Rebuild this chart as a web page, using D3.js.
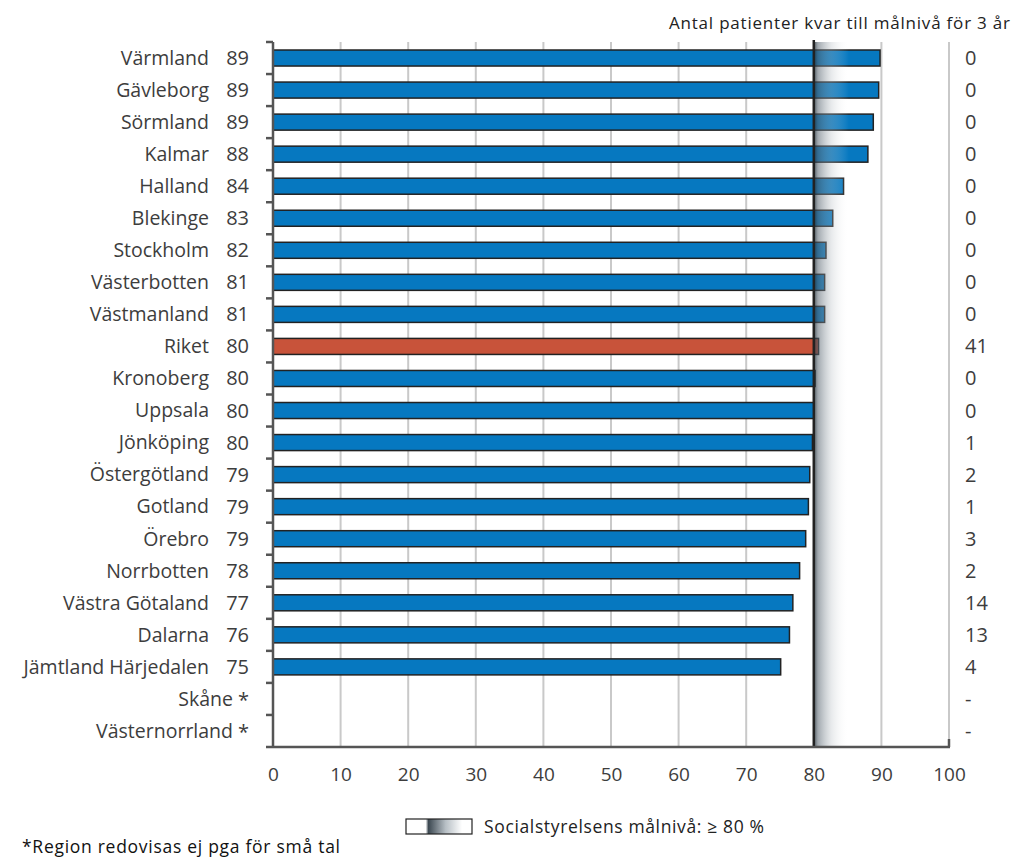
<!DOCTYPE html>
<html>
<head>
<meta charset="utf-8">
<script src="https://cdn.jsdelivr.net/npm/d3@7"></script>
<style>
  body { margin: 0; background: #fff; }
  svg text { font-family: "Open Sans", "Noto Sans", sans-serif; }
</style>
</head>
<body>
<div id="chart"></div>
<script>
// regions top to bottom
const regions = ["Värmland", "Gävleborg", "Sörmland", "Kalmar", "Halland", "Blekinge", "Stockholm",
  "Västerbotten", "Västmanland", "Riket", "Kronoberg", "Uppsala", "Jönköping", "Östergötland",
  "Gotland", "Örebro", "Norrbotten", "Västra Götaland", "Dalarna", "Jämtland Härjedalen",
  "Skåne", "Västernorrland"];
// share (%) reaching target, null = not reported
const shares = [89.8, 89.6, 88.8, 88.0, 84.4, 82.8, 81.8, 81.6, 81.6, 80.7, 80.2, 80.0, 79.8, 79.4,
  79.2, 78.8, 77.9, 76.9, 76.4, 75.1, null, null];
// printed (rounded) share next to each name
const shareLabels = ["89", "89", "89", "88", "84", "83", "82", "81", "81", "80", "80", "80", "80",
  "79", "79", "79", "78", "77", "76", "75", "*", "*"];
// patients left to target, per region
const remaining = ["0", "0", "0", "0", "0", "0", "0", "0", "0", "41", "0", "0", "1", "2", "1", "3",
  "2", "14", "13", "4", "-", "-"];
const xTicks = [0, 10, 20, 30, 40, 50, 60, 70, 80, 90, 100];
const target = 80;

const W = 1014, H = 857;
const margin = {top: 42, left: 273, right: 66, bottom: 110};

const svg = d3.select("#chart").append("svg")
  .attr("width", W).attr("height", H);

const data = regions.map((r, i) => ({region: r, value: shares[i], label: shareLabels[i], rest: remaining[i]}));

const x = d3.scaleLinear().domain([0, 100]).range([margin.left, W - margin.right + 1]);
const y = d3.scaleBand().domain(regions)
  .range([margin.top, H - margin.bottom])
  .paddingInner(0.5).paddingOuter(0.25);

const textColor = "#3d3d3d";

// gradient for target band
const defs = svg.append("defs");
const grad = defs.append("linearGradient").attr("id", "band").attr("x1", "0").attr("x2", "1");
grad.append("stop").attr("offset", "0").attr("stop-color", "#1e2a33").attr("stop-opacity", 0.8);
grad.append("stop").attr("offset", "0.12").attr("stop-color", "#56636e").attr("stop-opacity", 0.55);
grad.append("stop").attr("offset", "0.5").attr("stop-color", "#b0b8be").attr("stop-opacity", 0.3);
grad.append("stop").attr("offset", "1").attr("stop-color", "#ffffff").attr("stop-opacity", 0);

const lgGrad = defs.append("linearGradient").attr("id", "legendband").attr("x1", "0").attr("x2", "1");
lgGrad.append("stop").attr("offset", "0").attr("stop-color", "#ffffff");
lgGrad.append("stop").attr("offset", "0.3").attr("stop-color", "#ffffff");
lgGrad.append("stop").attr("offset", "0.34").attr("stop-color", "#3c4851");
lgGrad.append("stop").attr("offset", "0.6").attr("stop-color", "#b7bfc5");
lgGrad.append("stop").attr("offset", "0.85").attr("stop-color", "#ffffff");
lgGrad.append("stop").attr("offset", "1").attr("stop-color", "#ffffff");

// gridlines
svg.append("g").selectAll("line")
  .data(xTicks.filter(t => t > 0))
  .join("line")
  .attr("x1", d => x(d)).attr("x2", d => x(d))
  .attr("y1", margin.top).attr("y2", H - margin.bottom)
  .attr("stroke", "#c9c9c9").attr("stroke-width", 2);

// bars
svg.append("g").selectAll("rect")
  .data(data.filter(d => d.value != null))
  .join("rect")
  .attr("x", x(0))
  .attr("y", d => y(d.region))
  .attr("width", d => x(d.value) - x(0))
  .attr("height", y.bandwidth())
  .attr("fill", d => d.region === "Riket" ? "#c8533a" : "#0678c0")
  .attr("stroke", "#222")
  .attr("stroke-width", 1.5);

// target band on top
svg.append("rect")
  .attr("x", x(target))
  .attr("y", margin.top)
  .attr("width", x(target + 5.2) - x(target))
  .attr("height", H - margin.bottom - margin.top)
  .attr("fill", "url(#band)");

svg.append("line")
  .attr("x1", x(target)).attr("x2", x(target))
  .attr("y1", margin.top - 2).attr("y2", H - margin.bottom)
  .attr("stroke", "#222").attr("stroke-width", 2.5);

// y axis line with band ticks
const axisColor = "#555";
svg.append("line")
  .attr("x1", x(0)).attr("x2", x(0))
  .attr("y1", margin.top).attr("y2", H - margin.bottom)
  .attr("stroke", axisColor).attr("stroke-width", 2.5);
const step = y.step();
svg.append("g").selectAll("line")
  .data(d3.range(regions.length))
  .join("line")
  .attr("x1", x(0) - 7).attr("x2", x(0))
  .attr("y1", i => y(regions[i]) - (step - y.bandwidth()) / 2)
  .attr("y2", i => y(regions[i]) - (step - y.bandwidth()) / 2)
  .attr("stroke", axisColor).attr("stroke-width", 2.5);

// x axis
svg.append("line")
  .attr("x1", x(0) - 7).attr("x2", x(100) + 1)
  .attr("y1", H - margin.bottom).attr("y2", H - margin.bottom)
  .attr("stroke", axisColor).attr("stroke-width", 2.5);
svg.append("line")
  .attr("x1", x(100)).attr("x2", x(100))
  .attr("y1", H - margin.bottom - 8).attr("y2", H - margin.bottom)
  .attr("stroke", axisColor).attr("stroke-width", 2.5);

const xAxis = svg.append("g")
  .attr("transform", `translate(0,${H - margin.bottom})`)
  .call(d3.axisBottom(x).tickValues(xTicks).tickSize(0).tickPadding(21));
xAxis.select(".domain").remove();
xAxis.selectAll("text")
  .attr("font-size", "19px").attr("fill", textColor)
  .style("font-family", '"Open Sans", sans-serif');

// category labels and values
const labels = svg.append("g").selectAll("g")
  .data(data)
  .join("g")
  .attr("transform", d => `translate(0,${y(d.region) + y.bandwidth() / 2})`);

labels.append("text")
  .attr("x", d => d.value == null ? 233 : 209)
  .attr("dy", "0.35em")
  .attr("text-anchor", "end")
  .attr("font-size", "19.5px").attr("fill", textColor)
  .text(d => d.region);

labels.append("text")
  .attr("x", 249)
  .attr("dy", d => d.value == null ? "0.4em" : "0.35em")
  .attr("text-anchor", "end")
  .attr("font-size", "20px").attr("fill", textColor)
  .text(d => d.label);

labels.append("text")
  .attr("x", 965)
  .attr("dy", "0.35em")
  .attr("font-size", "20px").attr("fill", textColor)
  .text(d => d.rest);

// header for right column
svg.append("text")
  .attr("x", 669).attr("y", 29)
  .attr("textLength", 341).attr("lengthAdjust", "spacing")
  .attr("font-size", "17px").attr("fill", "#222")
  .text("Antal patienter  kvar till målnivå för 3 år");

// legend
svg.append("rect")
  .attr("x", 406).attr("y", 819).attr("width", 66).attr("height", 15)
  .attr("fill", "url(#legendband)")
  .attr("stroke", "#222").attr("stroke-width", 1.2);
svg.append("text")
  .attr("x", 484).attr("y", 827).attr("dy", "0.35em")
  .attr("textLength", 280).attr("lengthAdjust", "spacing")
  .attr("font-size", "17.5px").attr("fill", "#222")
  .text("Socialstyrelsens målnivå: ≥ 80 %");

// footnote
svg.append("text")
  .attr("x", 22).attr("y", 847).attr("dy", "0.35em")
  .attr("textLength", 318).attr("lengthAdjust", "spacing")
  .attr("font-size", "17.5px").attr("fill", "#111")
  .text("*Region redovisas ej pga för små tal");
</script>
</body>
</html>
